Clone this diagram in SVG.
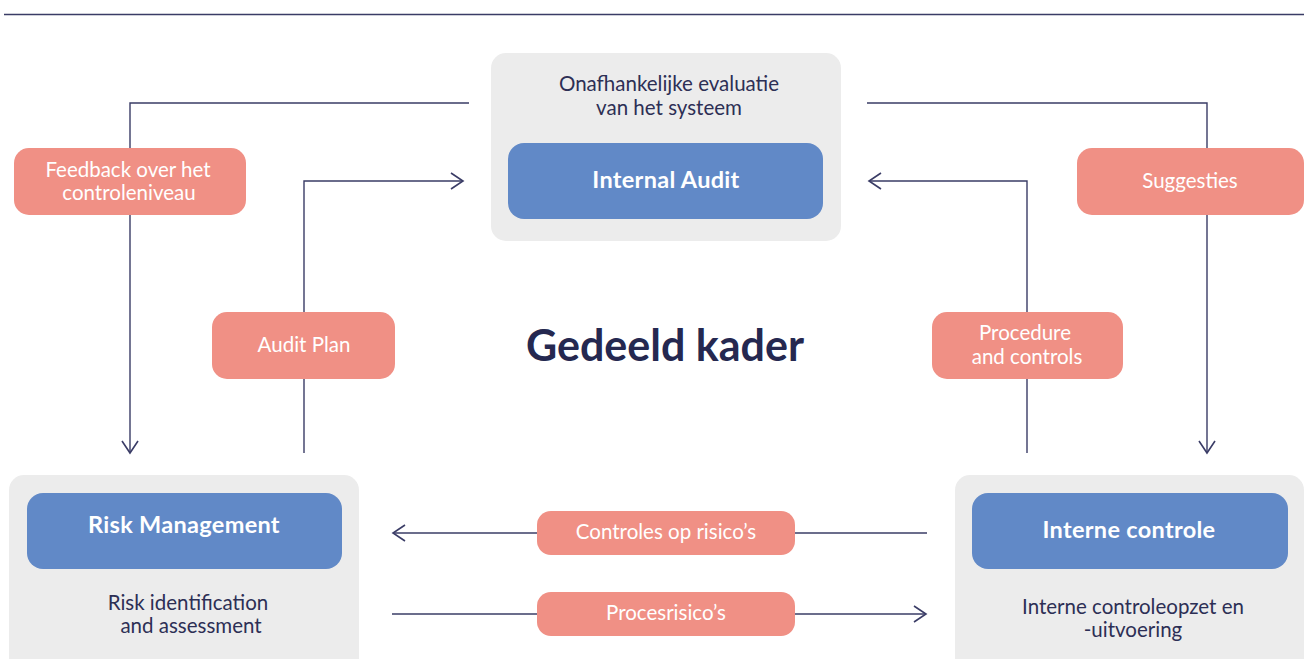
<svg xmlns="http://www.w3.org/2000/svg" width="1307" height="659" viewBox="0 0 1307 659">
<defs>
<style>
.frame{fill:#ececec}
.blue{fill:#6189c7}
.pill{fill:#f09085}
.ln{fill:none;stroke:#3a3c66;stroke-width:1.4}
.t{font-family:Lato,"Noto Sans","Liberation Sans",sans-serif;text-anchor:middle}
.lab{font-size:20.5px;fill:#ffffff}
.dark{font-size:20.5px;fill:#2d2f55}
.head{font-size:23.5px;font-weight:bold;fill:#ffffff;letter-spacing:0.3px}
</style>
<marker id="ah" markerUnits="userSpaceOnUse" markerWidth="20" markerHeight="20" refX="13" refY="10" orient="auto" viewBox="0 0 20 20">
<path d="M1,2 L13,10 L1,18" fill="none" stroke="#3a3c66" stroke-width="1.6"/>
</marker>
</defs>
<rect width="1307" height="659" fill="#ffffff"/>
<line x1="4" y1="14.5" x2="1304" y2="14.5" stroke="#3a3c66" stroke-width="1.6"/>

<g id="connectors">
<path class="ln" d="M469,103 H130 V453" marker-end="url(#ah)"/>
<path class="ln" d="M304,453 V181 H463" marker-end="url(#ah)"/>
<path class="ln" d="M867,103 H1207 V453" marker-end="url(#ah)"/>
<path class="ln" d="M1027,453 V181 H869" marker-end="url(#ah)"/>
<path class="ln" d="M927,533 H393" marker-end="url(#ah)"/>
<path class="ln" d="M392,614 H926" marker-end="url(#ah)"/>
</g>

<g id="internal-audit">
<rect class="frame" x="491" y="53" width="350" height="188" rx="15"/>
<text class="t dark" x="669" y="91">Onafhankelijke evaluatie</text>
<text class="t dark" x="669" y="115">van het systeem</text>
<rect class="blue" x="508" y="143" width="315" height="76" rx="16"/>
<text class="t head" x="666" y="188">Internal Audit</text>
</g>

<g id="risk-management">
<rect class="frame" x="9" y="475" width="350" height="200" rx="15"/>
<rect class="blue" x="27" y="493" width="315" height="76" rx="16"/>
<text class="t head" x="184" y="533">Risk Management</text>
<text class="t dark" x="188" y="610">Risk identification</text>
<text class="t dark" x="191" y="633">and assessment</text>
</g>

<g id="interne-controle">
<rect class="frame" x="955" y="475" width="349" height="200" rx="15"/>
<rect class="blue" x="972" y="493" width="316" height="76" rx="16"/>
<text class="t head" x="1129" y="538">Interne controle</text>
<text class="t dark" x="1133" y="614">Interne controleopzet en</text>
<text class="t dark" x="1133" y="637">-uitvoering</text>
</g>

<g id="label-feedback">
<rect class="pill" x="14" y="148" width="232" height="67" rx="15"/>
<text class="t lab" x="128" y="177">Feedback over het</text>
<text class="t lab" x="129" y="200">controleniveau</text>
</g>
<g id="label-audit-plan">
<rect class="pill" x="212" y="312" width="183" height="67" rx="15"/>
<text class="t lab" x="304" y="352">Audit Plan</text>
</g>
<g id="label-suggesties">
<rect class="pill" x="1077" y="148" width="227" height="67" rx="15"/>
<text class="t lab" x="1190" y="188">Suggesties</text>
</g>
<g id="label-procedure">
<rect class="pill" x="932" y="312" width="191" height="67" rx="15"/>
<text class="t lab" x="1025" y="340">Procedure</text>
<text class="t lab" x="1027" y="364">and controls</text>
</g>
<g id="label-controles">
<rect class="pill" x="537" y="511" width="258" height="44" rx="14"/>
<text class="t lab" x="666" y="539">Controles op risico’s</text>
</g>
<g id="label-procesrisicos">
<rect class="pill" x="537" y="592" width="258" height="44" rx="14"/>
<text class="t lab" x="666" y="620">Procesrisico’s</text>
</g>

<g id="title">
<text class="t" x="665" y="361" font-size="43" font-weight="bold" fill="#252850">Gedeeld kader</text>
</g>
</svg>
